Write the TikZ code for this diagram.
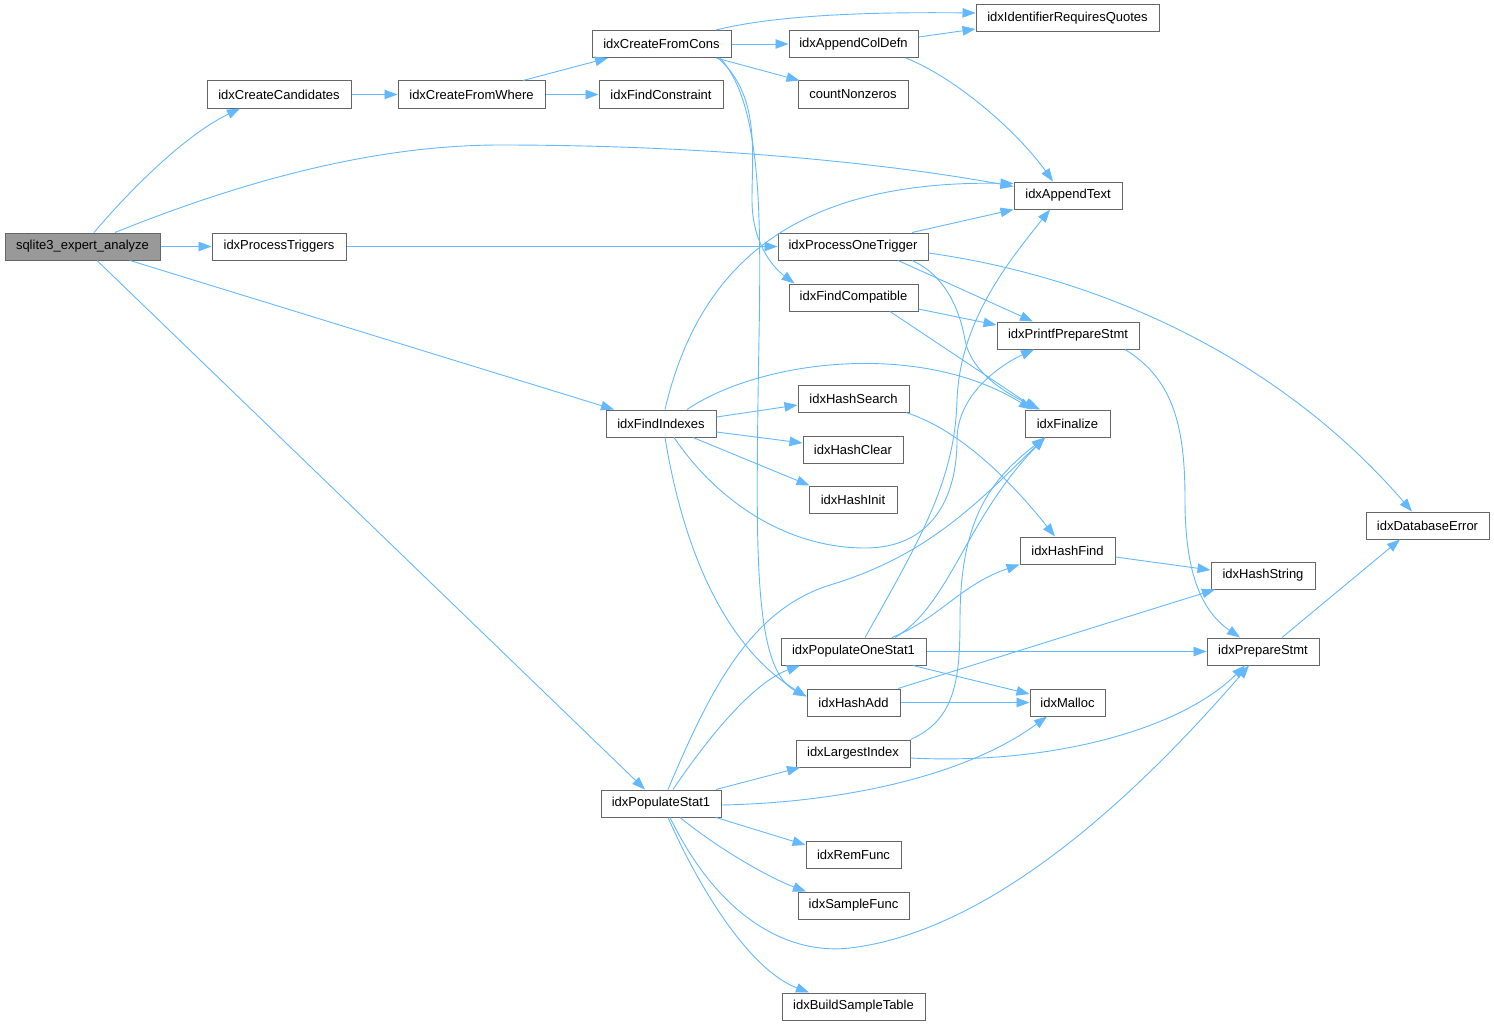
\documentclass[tikz,border=0pt]{standalone}
\usepackage{fontspec}
\setmainfont{Liberation Sans}
\usetikzlibrary{arrows.meta,calc}
\definecolor{edgeblue}{HTML}{63B8FF}
\definecolor{boxgray}{HTML}{666666}
\definecolor{rootgray}{HTML}{999999}
\tikzset{
  box/.style={draw=boxgray, line width=1pt, fill=white, minimum height=27pt, inner sep=0pt, font=\fontsize{13}{15}\selectfont},
  rootbox/.style={box, fill=rootgray},
  e/.style={draw=edgeblue, line width=0.9pt, -{Triangle[length=13pt,width=9.5pt]}}
}
\begin{document}
\begin{tikzpicture}[x=1pt,y=-1pt]
\useasboundingbox (0,0) rectangle (1494,1025);
% nodes
\node[rootbox, minimum width=155pt] (sea) at (82.5,246.5) {sqlite3\_expert\_analyze};
\node[box, minimum width=144pt] (cc) at (279,94.5) {idxCreateCandidates};
\node[box, minimum width=147pt] (cfw) at (471.5,94.5) {idxCreateFromWhere};
\node[box, minimum width=134pt] (pt) at (279,246.5) {idxProcessTriggers};
\node[box, minimum width=139pt] (cfc) at (661.5,44) {idxCreateFromCons};
\node[box, minimum width=124pt] (fc) at (661,94.5) {idxFindConstraint};
\node[box, minimum width=129pt] (acd) at (853.5,44) {idxAppendColDefn};
\node[box, minimum width=110pt] (cnz) at (853,94.5) {countNonzeros};
\node[box, minimum width=183pt] (irq) at (1067.5,18.5) {idxIdentifierRequiresQuotes};
\node[box, minimum width=108pt] (at) at (1068,195.5) {idxAppendText};
\node[box, minimum width=150pt] (pot) at (853,246.5) {idxProcessOneTrigger};
\node[box, minimum width=129pt] (fcomp) at (853.5,297.5) {idxFindCompatible};
\node[box, minimum width=142pt] (ppsp) at (1068,335.5) {idxPrintfPrepareStmt};
\node[box, minimum width=111pt] (hs) at (853.5,398.5) {idxHashSearch};
\node[box, minimum width=110pt] (fi) at (661,423.5) {idxFindIndexes};
\node[box, minimum width=85pt] (fin) at (1067.5,423.5) {idxFinalize};
\node[box, minimum width=100pt] (hc) at (853,449.5) {idxHashClear};
\node[box, minimum width=88pt] (hi) at (853,499.5) {idxHashInit};
\node[box, minimum width=123pt] (de) at (1427.5,525.5) {idxDatabaseError};
\node[box, minimum width=95pt] (hf) at (1067.5,550.5) {idxHashFind};
\node[box, minimum width=104pt] (hstr) at (1263,575.5) {idxHashString};
\node[box, minimum width=145pt] (pos1) at (853.5,651.5) {idxPopulateOneStat1};
\node[box, minimum width=112pt] (ps1) at (1263,651.5) {idxPrepareStmt};
\node[box, minimum width=93pt] (ha) at (853.5,702.5) {idxHashAdd};
\node[box, minimum width=75pt] (mal) at (1067.5,702.5) {idxMalloc};
\node[box, minimum width=114pt] (li) at (853,753.5) {idxLargestIndex};
\node[box, minimum width=120pt] (ps) at (661,803.5) {idxPopulateStat1};
\node[box, minimum width=95pt] (rf) at (853.5,854.5) {idxRemFunc};
\node[box, minimum width=111pt] (sf) at (853.5,905.5) {idxSampleFunc};
\node[box, minimum width=143pt] (bst) at (853.5,1006.5) {idxBuildSampleTable};
% edges
\draw[e] ($(sea.north)+(11.5,0)$) .. controls (130,190) and (185,135) .. ($(cc.south)+(-39,0)$);
\draw[e] ($(sea.north)+(32.5,0)$) .. controls (250,178) and (380,145) .. (500,145) .. controls (700,145) and (880,162) .. ($(at.west)+(0,-9)$);
\draw[e] (sea.east) -- (pt.west);
\draw[e] ($(sea.south)+(47.5,0)$) -- ($(fi.north)+(-47,0)$);
\draw[e] ($(sea.south)+(14.5,0)$) -- ($(ps.north)+(-16,0)$);
\draw[e] (cc.east) -- (cfw.west);
\draw[e] ($(cfw.north)+(51.5,0)$) -- ($(cfc.south)+(-53.5,0)$);
\draw[e] (cfw.east) -- (fc.west);
\draw[e] (pt.east) -- (pot.west);
\draw[e] ($(cfc.north)+(54.5,0)$) .. controls (780,14) and (880,12) .. ($(irq.west)+(0,-5.5)$);
\draw[e] (cfc.east) -- (acd.west);
\draw[e] ($(acd.east)+(0,-7)$) -- ($(irq.west)+(0,10.5)$);
\draw[e] ($(cfc.south)+(54.5,0)$) -- ($(cnz.north west)+(2,0)$);
\draw[e] ($(cfc.south)+(56.5,0)$) .. controls (760,95) and (752,150) .. (752,200) .. controls (752,240) and (770,265) .. ($(fcomp.north west)+(6,0)$);
\draw[e] ($(cfc.south)+(58.5,0)$) .. controls (768,110) and (760,250) .. (758,400) .. controls (756,560) and (755,670) .. ($(ha.west)+(0,-6)$);
\draw[e] ($(acd.south)+(52.5,0)$) .. controls (960,80) and (1020,135) .. ($(at.north)+(-15,0)$);
\draw[e] ($(pot.north)+(59,0)$) -- (at.south west);
\draw[e] ($(pot.south)+(45,0)$) -- ($(ppsp.north)+(-35,0)$);
\draw[e] ($(pot.south)+(59,0)$) .. controls (945,275) and (960,310) .. (965,340) .. controls (972,375) and (1010,395) .. ($(fin.north)+(-27.5,0)$);
\draw[e] ($(pot.east)+(0,6.5)$) .. controls (1120,280) and (1290,370) .. ($(de.north)+(-15.5,0)$);
\draw[e] ($(fcomp.east)+(0,11.5)$) -- ($(ppsp.west)+(0,-10.5)$);
\draw[e] ($(fcomp.south)+(36.5,0)$) -- ($(fin.north)+(-30.5,0)$);
\draw[e] ($(fi.north)+(4,0)$) .. controls (700,260) and (800,180) .. ($(at.west)+(0,-12)$);
\draw[e] ($(fi.north)+(26,0)$) .. controls (760,360) and (920,340) .. ($(fin.north)+(-35.5,0)$);
\draw[e] ($(fi.east)+(0,-6.5)$) -- ($(hs.west)+(0,6.5)$);
\draw[e] ($(fi.east)+(0,8.5)$) -- ($(hc.west)+(0,-6.5)$);
\draw[e] ($(fi.south)+(32,0)$) -- ($(hi.north west)+(1,0)$);
\draw[e] ($(fi.south)+(13,0)$) .. controls (720,505) and (790,548) .. (865,548) .. controls (930,548) and (957,500) .. (957,440) .. controls (957,395) and (1000,365) .. ($(ppsp.south)+(-34,0)$);
\draw[e] ($(fi.south)+(4,0)$) .. controls (685,560) and (730,650) .. ($(ha.west)+(0,-6)$);
\draw[e] ($(hs.south)+(52.5,0)$) .. controls (960,430) and (1010,480) .. ($(hf.north)+(-12.5,0)$);
\draw[e] ($(hf.east)+(0,6.5)$) -- ($(hstr.west)+(0,-5.5)$);
\draw[e] ($(pos1.north)+(11.5,0)$) .. controls (920,540) and (955,480) .. (957,400) .. controls (960,320) and (1010,260) .. ($(at.south)+(-18,0)$);
\draw[e] ($(pos1.north)+(38.5,0)$) .. controls (940,618) and (960,585) .. (hf.south west);
\draw[e] ($(pos1.north)+(41.5,0)$) .. controls (950,605) and (965,520) .. ($(fin.south)+(-22.5,0)$);
\draw[e] (pos1.east) -- (ps1.west);
\draw[e] ($(pos1.south)+(59.5,0)$) -- ($(mal.west)+(0,-8.5)$);
\draw[e] (ha.east) -- (mal.west);
\draw[e] ($(ha.north)+(44.5,0)$) -- ($(hstr.south)+(-48,0)$);
\draw[e] ($(li.east)+(0,4.5)$) .. controls (1050,765) and (1180,730) .. ($(ps1.south)+(-18,0)$);
\draw[e] (li.north east) .. controls (955,720) and (960,680) .. (960,620) .. controls (960,520) and (990,480) .. ($(fin.south)+(-22.5,0)$);
\draw[e] ($(ps.north)+(7,0)$) .. controls (710,690) and (750,610) .. (830,585) .. controls (930,555) and (980,500) .. ($(fin.south)+(-22.5,0)$);
\draw[e] ($(ps.north)+(12,0)$) .. controls (720,720) and (760,680) .. ($(pos1.south)+(-53.5,0)$);
\draw[e] ($(ps.north)+(55,0)$) -- ($(li.south)+(-53,0)$);
\draw[e] ($(ps.east)+(0,1.5)$) .. controls (830,803) and (960,780) .. ($(mal.south)+(-20.5,0)$);
\draw[e] ($(ps.south)+(55,0)$) -- ($(rf.west)+(0,-9.5)$);
\draw[e] ($(ps.south)+(19,0)$) .. controls (720,850) and (770,878) .. ($(sf.north)+(-47.5,0)$);
\draw[e] ($(ps.south)+(7,0)$) .. controls (700,890) and (750,970) .. ($(bst.north)+(-44.5,0)$);
\draw[e] ($(ps.south)+(9,0)$) .. controls (720,920) and (790,955) .. (850,948) .. controls (1000,930) and (1150,780) .. ($(ps1.south)+(-14,0)$);
\draw[e] ($(ppsp.south)+(57,0)$) .. controls (1175,380) and (1185,430) .. (1185,500) .. controls (1185,570) and (1200,610) .. ($(ps1.north)+(-23,0)$);
\draw[e] ($(ps1.north)+(19,0)$) -- ($(de.south)+(-27.5,0)$);
\end{tikzpicture}
\end{document}
